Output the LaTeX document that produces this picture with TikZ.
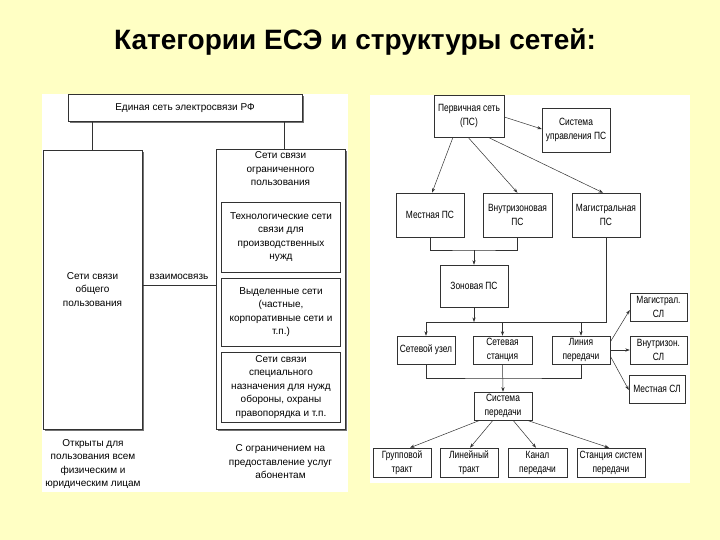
\documentclass[tikz,border=0pt]{standalone}
\usepackage{fontspec}
\setmainfont{Liberation Sans}
\newfontfamily\narrowf{Liberation Sans}[FakeStretch=0.8]
\usetikzlibrary{arrows.meta,shadows}
\definecolor{bgyellow}{RGB}{255,255,196}
\definecolor{lineg}{RGB}{50,50,50}
\tikzset{
  lbx/.style={draw=lineg, fill=white, line width=0.6pt, inner sep=0pt, align=center,
    font=\fontsize{10}{13.5}\selectfont},
  shbx/.style={lbx, general shadow={shadow xshift=1.6pt, shadow yshift=-1.6pt, fill=black!55}},
  rbx/.style={draw=lineg, fill=white, line width=0.5pt, inner sep=0pt, align=center,
    font=\narrowf\fontsize{10.5}{14}\selectfont},
  ltxt/.style={align=center, inner sep=0pt, font=\fontsize{10}{13.5}\selectfont},
  conn/.style={draw=lineg, line width=0.5pt},
  arr/.style={conn, -{Stealth[length=4.5pt,width=3.2pt]}}
}
\begin{document}
\begin{tikzpicture}[x=1pt,y=-1pt]
\fill[bgyellow] (0,0) rectangle (720,540);
\useasboundingbox (0,0) rectangle (720,540);
% title
\node[font=\bfseries\fontsize{28}{32}\selectfont, inner sep=0pt] (title) at (355,42) {Категории ЕСЭ и структуры сетей:};
% panels
\fill[white] (42,94) rectangle (348,492);
\fill[white] (370,95) rectangle (690,483);

% ---------- left diagram ----------
\node[shbx, minimum width=234pt, minimum height=27pt] (top) at (185,108) {Единая сеть электросвязи РФ};
\node[shbx, minimum width=99pt, minimum height=279pt] (lbox) at (92.5,289.5) {Сети связи\\общего\\пользования};
\node[shbx, minimum width=129pt, minimum height=280pt] (rbox) at (280.5,289.5) {};
\node[ltxt] (rhead) at (280.5,169) {Сети связи\\ограниченного\\пользования};
\node[lbx, minimum width=119pt, minimum height=70pt] (in1) at (281,237) {Технологические сети\\связи для\\производственных\\нужд};
\node[lbx, minimum width=119pt, minimum height=68pt] (in2) at (281,312) {Выделенные сети\\(частные,\\корпоративные сети и\\т.п.)};
\node[lbx, minimum width=119pt, minimum height=70pt] (in3) at (281,387) {Сети связи\\специального\\назначения для нужд\\обороны, охраны\\правопорядка и т.п.};
\node[ltxt] (lnote) at (93,464) {Открыты для\\пользования всем\\физическим и\\юридическим лицам};
\node[ltxt] (rnote) at (280.5,462) {С ограничением на\\предоставление услуг\\абонентам};
\node[ltxt] (vz) at (179,277) {взаимосвязь};
\draw[conn] (top.south -| lbox.north) -- (lbox.north);
\draw[conn] ([xshift=4pt]top.south -| rbox.north) -- ([xshift=4pt]rbox.north);
\draw[conn] (lbox.east |- 0,285) -- (rbox.west |- 0,285);

% ---------- right diagram ----------
\node[rbx, minimum width=70pt, minimum height=42pt] (ps) at (469,116) {Первичная сеть\\(ПС)};
\node[rbx, minimum width=68pt, minimum height=44pt] (su) at (576,130) {Система\\управления ПС};
\node[rbx, minimum width=68pt, minimum height=44pt] (mest) at (430,215) {Местная ПС};
\node[rbx, minimum width=69pt, minimum height=44pt] (vnz) at (517.5,215) {Внутризоновая\\ПС};
\node[rbx, minimum width=68pt, minimum height=44pt] (mag) at (606,215) {Магистральная\\ПС};
\node[rbx, minimum width=68pt, minimum height=42pt] (zon) at (474,286) {Зоновая ПС};
\node[rbx, minimum width=58pt, minimum height=28pt] (uzel) at (426,350) {Сетевой узел};
\node[rbx, minimum width=59pt, minimum height=28pt] (stan) at (502.5,350) {Сетевая\\станция};
\node[rbx, minimum width=58pt, minimum height=28pt] (lin) at (581,350) {Линия\\передачи};
\node[rbx, minimum width=57pt, minimum height=28pt] (msl) at (658.5,307) {Магистрал.\\СЛ};
\node[rbx, minimum width=57pt, minimum height=28pt] (vsl) at (658.5,350) {Внутризон.\\СЛ};
\node[rbx, minimum width=56pt, minimum height=28pt] (lsl) at (657,389) {Местная СЛ};
\node[rbx, minimum width=58pt, minimum height=28pt] (sp) at (503,406) {Система\\передачи};
\node[rbx, minimum width=58pt, minimum height=29pt] (g1) at (402,462.5) {Групповой\\тракт};
\node[rbx, minimum width=58pt, minimum height=29pt] (g2) at (469,462.5) {Линейный\\тракт};
\node[rbx, minimum width=59pt, minimum height=29pt] (g3) at (537.5,462.5) {Канал\\передачи};
\node[rbx, minimum width=68pt, minimum height=29pt] (g4) at (611,462.5) {Станция систем\\передачи};

\draw[arr] ([xshift=-16pt]ps.south) -- ([xshift=2pt]mest.north);
\draw[arr] ([xshift=-1pt]ps.south) -- (vnz.north);
\draw[arr] ([xshift=19pt]ps.south) -- ([xshift=-3pt]mag.north);
\draw[arr] ([yshift=-1pt]ps.east) -- ([yshift=1pt]su.west);

\coordinate (b1) at (474,250);
\draw[conn] (mest.south) |- (b1) -| (vnz.south);
\draw[arr] (b1) -- (zon.north);

\coordinate (b2) at (474,322);
\draw[conn] (mag.south) |- (uzel.north |- b2);
\draw[arr] (uzel.north |- b2) -- (uzel.north);
\draw[arr] (stan.north |- b2) -- (stan.north);
\draw[arr] (lin.north |- b2) -- (lin.north);
\draw[arr] (zon.south) -- (b2);

\draw[arr] ([yshift=8pt]lin.east) -- ([yshift=-3pt]msl.west);
\draw[arr] (lin.east) -- (vsl.west);
\draw[arr] ([yshift=-6pt]lin.east) -- ([yshift=-1pt]lsl.west);

\coordinate (b3) at (503,378);
\draw[conn] (uzel.south) |- (b3) -| (lin.south);
\draw[arr] (stan.south) -- (sp.north);

\draw[arr] ([xshift=-23pt]sp.south) -- ([xshift=8pt]g1.north);
\draw[arr] ([xshift=-10pt]sp.south) -- ([xshift=1pt]g2.north);
\draw[arr] ([xshift=10pt]sp.south) -- ([xshift=-1.5pt]g3.north);
\draw[arr] ([xshift=24pt]sp.south) -- ([xshift=-2pt]g4.north);
\end{tikzpicture}
\end{document}
